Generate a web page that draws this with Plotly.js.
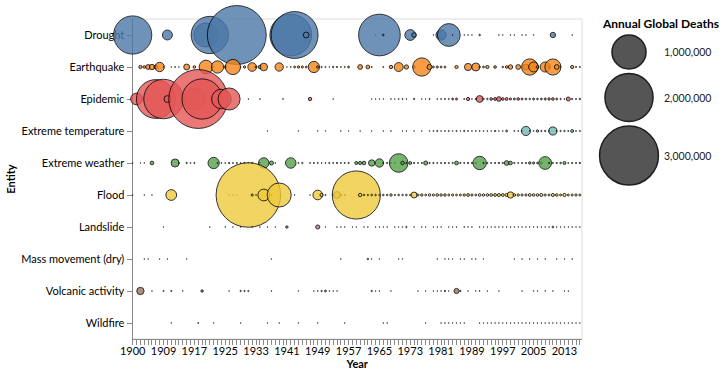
<!DOCTYPE html>
<html><head><meta charset="utf-8">
<script src="https://cdn.plot.ly/plotly-3.0.1.min.js"></script>
<style>html,body{margin:0;padding:0;background:#fff}#chart{width:726px;height:376px}</style>
</head><body><div id="chart"></div>
<script>
// ---------------- data ----------------
const entities = ['Drought','Earthquake','Epidemic','Extreme temperature','Extreme weather','Flood','Landslide','Mass movement (dry)','Volcanic activity','Wildfire'];
const entityColors = ['#4c78a8','#f58518','#e45756','#72b7b2','#54a24b','#eeca3b','#b279a2','#ff9da6','#9d755d','#bab0ac'];

const droughtYears  = [1900,1910,1920,1921,1928,1940,1942,1943,1946,1964,1965,1966,1973,1974,1979,1981,1983,1984,1987,1988,1989,1991,1996,1997,1999,2000,2002,2003,2005,2010,2015];
const droughtDeaths = [1261000,85000,500000,1200000,3000000,300,1500000,1900000,30000,200,1500000,2500,100000,19000,300,90000,450000,400,150,200,250,2000,100,200,150,300,200,150,100,25000,50];

const earthquakeYears  = [1902,1903,1905,1906,1907,1908,1909,1911,1912,1913,1915,1917,1920,1922,1923,1925,1927,1929,1930,1932,1933,1934,1935,1939,1941,1942,1943,1944,1945,1946,1948,1949,1950,1951,1952,1953,1954,1955,1956,1957,1960,1962,1963,1966,1968,1970,1972,1974,1976,1978,1979,1980,1981,1982,1985,1988,1990,1991,1992,1993,1995,1997,1998,1999,2001,2003,2004,2005,2006,2008,2009,2010,2011,2012,2015,2016,2017];
const earthquakeDeaths = [9000,6000,20000,25000,12000,75000,600,300,800,400,30000,6000,160000,300,130000,5000,200000,500,5000,65000,3000,10000,50000,60000,400,800,3000,5000,4000,3000,110000,5000,1500,1000,500,2000,1500,800,1000,3000,20000,12000,1200,1000,10000,70000,16000,5000,290000,22000,3000,4000,3000,3000,9000,45000,55000,2000,3000,9000,6000,2000,6000,17000,20000,30000,230000,85000,6000,88000,1500,225000,20000,700,9000,1200,1000];

const epidemicYears  = [1901,1907,1909,1910,1917,1918,1919,1924,1926,1931,1934,1940,1947,1953,1963,1964,1965,1966,1968,1969,1970,1971,1972,1974,1976,1977,1978,1980,1981,1982,1983,1984,1985,1987,1988,1989,1990,1991,1992,1993,1994,1995,1996,1997,1998,1999,2000,2001,2002,2003,2004,2005,2006,2007,2008,2009,2010,2011,2012,2013,2014,2015,2016,2017];
const epidemicDeaths = [120000,1300000,1350000,40000,400000,3000000,1400000,330000,420000,300,500,600,10000,200,300,200,400,300,500,300,800,1000,600,1500,400,300,1200,600,800,1000,900,3000,3500,1000,9000,500,1500,40000,2000,1800,6000,7000,19000,6000,7000,4000,3500,6000,3500,2500,2000,3500,2500,3000,4000,5000,6000,3000,1500,800,14000,1500,1000,2000];

const extremeTemperatureYears  = [1936,1944,1949,1951,1955,1957,1960,1963,1966,1968,1971,1972,1974,1976,1978,1979,1980,1981,1982,1983,1984,1985,1986,1987,1988,1989,1990,1991,1992,1993,1994,1995,1996,1997,1998,2000,2001,2002,2003,2004,2005,2006,2007,2008,2009,2010,2011,2012,2013,2014,2015,2016,2017];
const extremeTemperatureDeaths = [300,100,150,200,150,200,300,200,400,500,300,400,200,300,500,800,1300,600,700,900,500,1200,400,1500,800,600,700,900,600,800,500,1700,400,600,3000,900,800,2000,72000,600,800,5000,1500,1600,1300,56000,900,1500,1800,1200,7400,600,1100];

const extremeWeatherYears  = [1900,1902,1903,1906,1912,1913,1915,1916,1917,1922,1923,1924,1925,1926,1927,1928,1929,1930,1931,1932,1934,1935,1937,1938,1942,1944,1945,1947,1948,1949,1950,1951,1952,1953,1954,1955,1956,1957,1959,1960,1961,1963,1965,1966,1967,1968,1969,1970,1971,1972,1973,1974,1975,1976,1977,1978,1979,1980,1981,1982,1983,1984,1985,1986,1987,1988,1989,1990,1991,1992,1993,1994,1995,1996,1997,1998,1999,2000,2001,2002,2003,2004,2005,2006,2007,2008,2009,2010,2011,2012,2013,2014,2015,2016,2017];
const extremeWeatherDeaths = [400,300,200,12000,55000,1000,1500,800,1200,110000,1000,800,600,1500,900,1200,700,1500,1000,1500,1200,95000,14000,600,95000,1000,1500,800,1200,1000,600,800,1200,900,1500,1000,1200,1500,8000,9000,11000,35000,60000,1200,1500,1500,1000,300000,11000,1500,7000,1500,1000,1200,14000,1500,1500,1000,1300,1600,1200,1400,12000,1500,1200,1700,1500,2000,155000,1600,1500,1200,1400,1800,1500,19000,12000,1500,1000,1200,1500,5000,4000,2500,4500,140000,1500,1200,1500,2000,8000,1000,1500,1200,1800];

const floodYears  = [1900,1903,1906,1911,1926,1927,1928,1931,1932,1933,1935,1937,1939,1943,1947,1949,1950,1951,1953,1954,1955,1956,1959,1960,1961,1962,1963,1964,1965,1966,1967,1968,1969,1970,1971,1972,1973,1974,1975,1976,1977,1978,1979,1980,1981,1982,1983,1984,1985,1986,1987,1988,1989,1990,1991,1992,1993,1994,1995,1996,1997,1998,1999,2000,2001,2002,2003,2004,2005,2006,2007,2008,2009,2010,2011,2012,2013,2014,2015,2016,2017];
const floodDeaths = [300,200,300,100000,200,300,400,3600000,4000,500,120000,600,500000,500,400,80000,9000,1200,1500,40000,2000,1500,2000000,10000,2000,1500,2500,2000,1500,2500,2000,5000,1500,2500,2000,2500,1800,30000,4000,5000,3000,5500,4000,6000,5000,5500,3500,4000,3000,3500,5000,7000,4000,3000,6500,5000,6000,6500,7000,8000,7000,9000,35000,6000,5000,4000,4000,7000,5500,5800,8500,4000,3500,8000,6000,3500,9500,3500,3500,4500,3300];

const landslideYears  = [1909,1921,1925,1927,1929,1932,1934,1936,1938,1941,1949,1951,1954,1955,1956,1958,1959,1961,1962,1964,1965,1966,1967,1969,1970,1971,1972,1974,1976,1977,1979,1980,1981,1983,1984,1985,1987,1988,1989,1991,1992,1993,1994,1995,1996,1997,1998,1999,2000,2001,2002,2003,2004,2005,2006,2007,2008,2009,2010,2011,2012,2013,2014,2015,2016,2017];
const landslideDeaths = [200,150,200,100,300,200,150,250,300,5000,15000,400,300,200,300,200,250,300,400,200,300,250,300,200,400,300,1500,300,200,400,300,250,300,400,300,500,600,400,300,500,400,300,350,400,300,250,400,500,350,400,300,350,400,450,600,300,350,400,2500,400,350,500,300,400,350,300];

const massMovementYears  = [1903,1905,1908,1910,1915,1937,1955,1962,1963,1965,1970,1971,1980,1982,1983,1984,1986,1987,1989,1990,1992,2000,2002,2004,2006,2008,2011,2013,2015];
const massMovementDeaths = [100,80,120,90,100,80,150,2000,100,120,150,90,100,130,120,150,100,90,110,130,100,80,100,120,90,100,80,100,90];

const volcanicYears  = [1902,1906,1909,1911,1914,1919,1926,1929,1930,1931,1937,1944,1948,1949,1950,1951,1952,1953,1954,1963,1964,1965,1968,1975,1977,1979,1980,1981,1982,1983,1985,1986,1988,1990,1991,1993,1996,2002,2005,2006,2008,2010,2013,2014];
const volcanicDeaths = [46000,150,1000,1300,100,5100,100,1500,1400,1300,500,200,300,600,1500,3000,500,300,200,1600,300,500,100,100,300,200,100,200,1800,100,23000,1700,100,100,700,100,100,200,100,100,100,300,100,100];

const wildfireYears  = [1911,1918,1922,1929,1936,1939,1944,1949,1956,1966,1967,1977,1981,1982,1983,1984,1985,1986,1987,1991,1992,1993,1994,1995,1996,1997,1998,1999,2000,2001,2002,2003,2004,2005,2006,2007,2008,2009,2010,2011,2012,2013,2014,2015,2016,2017];
const wildfireDeaths = [100,1000,150,120,80,100,150,100,80,100,120,90,100,80,150,100,90,80,200,100,80,90,120,100,90,150,100,80,90,100,120,90,100,80,90,100,120,200,150,90,100,80,120,100,90,150];

const xTickLabels = ['1900','1909','1917','1925','1933','1941','1949','1957','1965','1973','1981','1989','1997','2005','2013'];
const firstYear = 1900, lastYear = 2017;
const yearsWithoutRecords = [1904];
const legendValues = [1000000, 2000000, 3000000];

// ---------------- chart ----------------
const W = 726, H = 376;
const FONT = 'Lato, "Noto Sans", sans-serif';
const series = [
  [droughtYears, droughtDeaths], [earthquakeYears, earthquakeDeaths], [epidemicYears, epidemicDeaths],
  [extremeTemperatureYears, extremeTemperatureDeaths], [extremeWeatherYears, extremeWeatherDeaths],
  [floodYears, floodDeaths], [landslideYears, landslideDeaths], [massMovementYears, massMovementDeaths],
  [volcanicYears, volcanicDeaths], [wildfireYears, wildfireDeaths]
];

const yearDomain = [];
for (let y = firstYear; y <= lastYear; y++) if (!yearsWithoutRecords.includes(y)) yearDomain.push(String(y));

// one million deaths -> 34 px wide circle (area proportional to deaths)
const ONE_MILLION_DIAM = 34;
const sizeRef = 2 * 1e6 / (ONE_MILLION_DIAM * ONE_MILLION_DIAM);

const traces = series.map(([yrs, deaths], i) => ({
  type: 'scatter', mode: 'markers', name: entities[i],
  x: yrs.map(String), y: yrs.map(() => entities[i]),
  xaxis: 'x', yaxis: 'y', cliponaxis: false, showlegend: false,
  marker: { size: deaths, sizemode: 'area', sizeref: sizeRef, sizemin: 0.35,
            color: entityColors[i], opacity: 0.8, line: { color: '#000', width: 1 } },
  hovertemplate: '%{y} %{x}: %{marker.size:,}<extra></extra>'
}));

// size legend
const legendX = 629, legendLabelX = 662;
let cursor = 35;
const legendY = legendValues.map(v => {
  const d = Math.sqrt(2 * v / sizeRef);
  const c = cursor + d / 2; cursor += d + 4.5; return c;
});
traces.push({
  type: 'scatter', mode: 'markers', xaxis: 'x2', yaxis: 'y2', cliponaxis: false, showlegend: false, hoverinfo: 'skip',
  x: legendValues.map(() => legendX), y: legendY,
  marker: { size: legendValues, sizemode: 'area', sizeref: sizeRef, color: '#555', opacity: 1, line: { color: '#1e1e1e', width: 1.5 } }
});

const annotations = legendValues.map((v, i) => ({
  xref: 'x2', yref: 'y2', x: legendLabelX, y: legendY[i], xanchor: 'left', yanchor: 'middle',
  text: v.toLocaleString('en-US'), showarrow: false, font: { family: FONT, size: 10.5, color: '#222' }
}));
annotations.push({
  xref: 'x2', yref: 'y2', x: 600, y: 23, xanchor: 'left', yanchor: 'middle', showarrow: false,
  text: 'Annual Global Deaths', font: { family: FONT, size: 12, color: '#000', weight: 'bold' }
});

const plotL = 132.5, plotR = 582, plotT = 19, plotB = 339;
const layout = {
  width: W, height: H, margin: { l: 0, r: 0, t: 0, b: 0 },
  paper_bgcolor: '#fff', plot_bgcolor: 'rgba(0,0,0,0)', showlegend: false,
  font: { family: FONT, size: 11, color: '#000' },
  xaxis: {
    type: 'category', domain: [plotL / W, plotR / W], categoryorder: 'array', categoryarray: yearDomain,
    range: [-0.05, yearDomain.length - 0.45], tickmode: 'array', tickvals: yearDomain,
    ticktext: yearDomain.map(y => xTickLabels.includes(y) ? y : ''),
    ticks: 'outside', ticklen: 5, tickcolor: '#888', tickwidth: 1, ticklabelstandoff: -3,
    showline: true, linecolor: '#888', linewidth: 1, showgrid: false, zeroline: false,
    tickfont: { family: FONT, size: 11, color: '#000' }, layer: 'below traces', automargin: false,
    title: { text: 'Year', font: { family: FONT, size: 11, color: '#000', weight: 'bold' }, standoff: 4 }, fixedrange: true
  },
  yaxis: {
    type: 'category', domain: [1 - plotB / H, 1 - plotT / H], categoryorder: 'array', categoryarray: entities,
    range: [entities.length - 0.5, -0.5],
    ticks: 'outside', ticklen: 5, tickcolor: '#888', tickwidth: 1,
    showline: true, linecolor: '#888', linewidth: 1, showgrid: false, zeroline: false,
    tickfont: { family: FONT, size: 11, color: '#000' }, layer: 'below traces', automargin: false,
    title: { text: 'Entity', font: { family: FONT, size: 11, color: '#000', weight: 'bold' }, standoff: 3 }, fixedrange: true
  },
  xaxis2: { domain: [0, 1], range: [0, W], visible: false, anchor: 'y2', fixedrange: true },
  yaxis2: { domain: [0, 1], range: [H, 0], visible: false, anchor: 'x2', fixedrange: true },
  shapes: [{ type: 'rect', xref: 'x domain', yref: 'y domain', x0: 0, x1: 1, y0: 0, y1: 1,
             line: { color: '#ddd', width: 1 }, fillcolor: 'rgba(0,0,0,0)', layer: 'below' }],
  annotations: annotations
};

Plotly.newPlot('chart', traces, layout, { displayModeBar: false, staticPlot: false, responsive: false });
</script>
</body></html>
